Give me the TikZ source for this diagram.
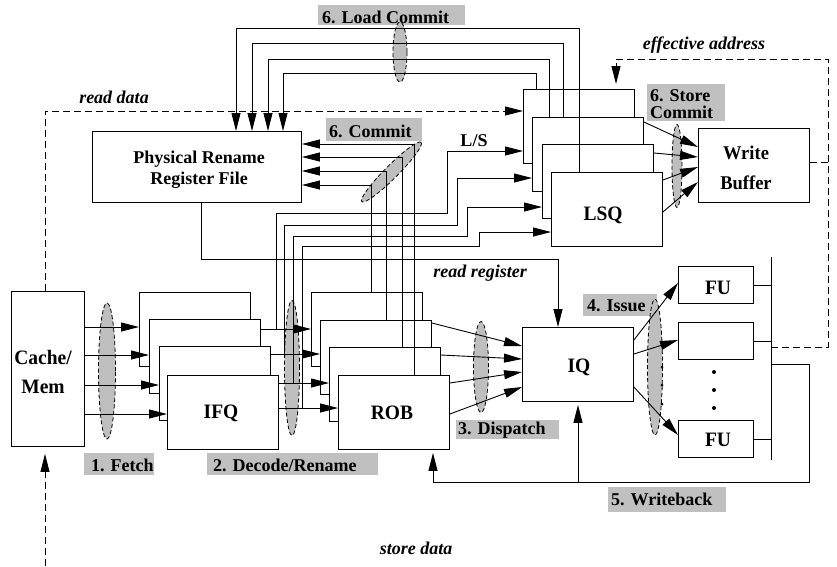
\documentclass[tikz,border=0pt]{standalone}
\usepackage{fontspec}
\setmainfont{Liberation Serif}
\usetikzlibrary{arrows.meta,shapes.geometric}
\definecolor{labgray}{RGB}{192,192,192}
\definecolor{ellgray}{RGB}{190,190,190}
\begin{document}
\begin{tikzpicture}[x=1pt,y=-1pt,
  txt/.style={font=\fontsize{18}{21}\selectfont\bfseries,inner sep=0pt},
  btxt/.style={font=\fontsize{19.5}{23}\selectfont\bfseries,inner sep=0pt,yscale=1.05},
  itxt/.style={font=\fontsize{18}{21}\selectfont\bfseries\itshape,inner sep=0pt},
  ln/.style={line width=0.9pt},
  arr/.style={ln,-{Triangle[length=18pt,width=9pt]}},
  dsh/.style={ln,dash pattern=on 7pt off 4pt},
  darr/.style={dsh,-{Triangle[length=18pt,width=9pt]}},
  qbox/.style={draw,fill=white,line width=0.9pt,anchor=north west,inner sep=0pt,minimum width=111pt,minimum height=74pt},
  fubox/.style={draw,fill=white,line width=0.9pt,anchor=north west,inner sep=0pt,minimum width=75pt,minimum height=37pt},
  stage/.style={fill=labgray,anchor=north west,inner sep=0pt},
  grp/.style={ellipse,draw,fill=ellgray,line width=0.8pt,dash pattern=on 4pt off 2.5pt,inner sep=0pt},
  dotn/.style={circle,fill=black,inner sep=0pt,minimum size=4pt},
  sdot/.style={circle,fill=black,inner sep=0pt,minimum size=3pt},
]
\useasboundingbox (0,0) rectangle (837,566);

% stage label backgrounds
\node[stage,minimum width=70pt,minimum height=22pt] (bgF) at (84,453) {};
\node[stage,minimum width=171pt,minimum height=22pt] (bgD) at (207,453) {};
\node[stage,minimum width=103pt,minimum height=19pt] (bgDi) at (456,420) {};
\node[stage,minimum width=74pt,minimum height=22pt] (bgI) at (583,294) {};
\node[stage,minimum width=118pt,minimum height=25pt] (bgW) at (608,487) {};
\node[stage,minimum width=147pt,minimum height=20pt] (bgL) at (318,5) {};
\node[stage,minimum width=96pt,minimum height=23pt] (bgC) at (326,118) {};
\node[stage,minimum width=78pt,minimum height=37pt] (bgS) at (647,84) {};

% group ellipses
\node[grp,minimum width=17pt,minimum height=136pt] (gF) at (107,371) {};
\node[grp,minimum width=15pt,minimum height=135pt] (gD) at (292,368) {};
\node[grp,minimum width=15pt,minimum height=91pt] (gDi) at (481,367) {};
\node[grp,minimum width=15pt,minimum height=136pt] (gI) at (655,367) {};
\node[grp,minimum width=14pt,minimum height=60pt] (gL) at (400,52) {};
\node[grp,minimum width=10pt,minimum height=83pt] (gS) at (677,166) {};
\node[grp,minimum width=84pt,minimum height=13pt,rotate=45] (gC) at (391.5,172) {};

% boxes
\node[qbox,minimum width=73pt,minimum height=155pt] (cache) at (11,291) {};
\node[qbox,minimum width=209pt,minimum height=71pt] (prrf) at (92,131) {};
\node[qbox] (lsqA) at (523,89) {};
\node[qbox] (lsqB) at (532,117) {};
\node[qbox] (lsqC) at (542,144) {};
\node[qbox] (lsqD) at (551,172) {};
\node[qbox] (wb) at (698,128) {};
\node[qbox] (ifqA) at (139,292) {};
\node[qbox] (ifqB) at (149,319) {};
\node[qbox] (ifqC) at (159,346) {};
\node[qbox] (ifqD) at (167,375) {};
\node[qbox] (robA) at (311,292) {};
\node[qbox] (robB) at (320,320) {};
\node[qbox] (robC) at (329,347) {};
\node[qbox] (robD) at (338,375) {};
\node[qbox] (iq) at (522,327) {};
\node[fubox] (fuA) at (678,266) {};
\node[fubox] (fuB) at (678,322) {};
\node[fubox] (fuC) at (678,420) {};

% fetch
\draw[arr] (cache.east |- 0,327) -- (ifqA.west |- 0,327);
\draw[arr] (cache.east |- 0,355) -- (ifqB.west |- 0,355);
\draw[arr] (cache.east |- 0,385) -- (ifqC.west |- 0,385);
\draw[arr] (cache.east |- 0,414) -- (ifqD.west |- 0,414);

% decode / rename
\draw[arr] (ifqB.east |- 0,329) -- (robA.west |- 0,329);
\draw[arr] (ifqC.east |- 0,354) -- (robB.west |- 0,354);
\draw[arr] (ifqD.east |- 0,383) -- (robC.west |- 0,383);
\draw[arr] (ifqD.east |- 0,408) -- (robD.west |- 0,408);

% to LSQ (L/S)
\draw[arr] (276,329) -- (276,213) -- (447,213) -- (447,151) -- (lsqA.west |- 0,151);
\draw[arr] (284,354) -- (284,225) -- (457,225) -- (457,178) -- (lsqB.west |- 0,178);
\draw[arr] (293,383) -- (293,236) -- (467,236) -- (467,207) -- (lsqC.west |- 0,207);
\draw[arr] (302,408) -- (302,246) -- (479,246) -- (479,232) -- (lsqD.west |- 0,232);

% commit
\draw[arr] (414,0 |- robD.north) -- (414,144) -- (prrf.east |- 0,144);
\draw[arr] (402,0 |- robC.north) -- (402,157) -- (prrf.east |- 0,157);
\draw[arr] (386,0 |- robB.north) -- (386,171) -- (prrf.east |- 0,171);
\draw[arr] (371,0 |- robA.north) -- (371,185) -- (prrf.east |- 0,185);

% load commit
\draw[arr] (579,0 |- lsqD.north) -- (579,28) -- (236,28) -- (236,0 |- prrf.north);
\draw[arr] (563,0 |- lsqB.north) -- (563,43) -- (252,43) -- (252,0 |- prrf.north);
\draw[arr] (549,0 |- lsqB.north) -- (549,59) -- (268,59) -- (268,0 |- prrf.north);
\draw[arr] (536,0 |- lsqA.north) -- (536,73) -- (283,73) -- (283,0 |- prrf.north);

% store commit
\draw[arr] (lsqB.east |- 0,122) -- (wb.west |- 0,147);
\draw[arr] (lsqC.east |- 0,153) -- (wb.west |- 0,157);
\draw[arr] (lsqD.east |- 0,180) -- (wb.west |- 0,167);
\draw[arr] (lsqD.east |- 0,212) -- (wb.west |- 0,182);

% read data / store data
\draw[darr] (45,0 |- cache.north) -- (45,111) -- (lsqA.west |- 0,111);
\draw[darr,shorten >=7pt] (45,566) -- (45,0 |- cache.south);

% read register
\draw[arr] (201,0 |- prrf.south) -- (201,259) -- (558,259) -- (558,0 |- iq.north);

% dispatch
\draw[arr] (robB.east |- 0,323) -- (iq.west |- 0,346);
\draw[arr] (robC.east |- 0,355) -- (iq.west |- 0,359);
\draw[arr] (robD.east |- 0,383) -- (iq.west |- 0,372);
\draw[arr] (robD.east |- 0,414) -- (iq.west |- 0,387);

% issue
\draw[arr] (iq.east |- 0,340) -- (fuA.west |- 0,283);
\draw[arr] (iq.east |- 0,354) -- (fuB.west |- 0,340);
\draw[arr] (iq.east |- 0,387) -- (fuC.west |- 0,435);
\node[sdot] (iA) at (662,367) {};
\node[sdot] (iB) at (662,385) {};
\node[sdot] (iC) at (662,404) {};

% result bus
\coordinate (busT) at (771,257);
\coordinate (busB) at (771,460);
\draw[ln] (busT) -- (busB);
\draw[ln] (fuA.east) -- (busT |- fuA.east);
\draw[ln] (fuB.east) -- (busT |- fuB.east);
\draw[ln] (fuC.east) -- (busT |- fuC.east);
\node[dotn] (dA) at (714,372) {};
\node[dotn] (dB) at (714,390) {};
\node[dotn] (dC) at (714,408) {};

% writeback
\draw[arr,shorten >=3pt] (busT |- 0,364) -- (809,364) -- (809,482) -- (433,482) -- (433,0 |- robD.south);
\draw[arr,shorten >=3pt] (578,482) -- (578,0 |- iq.south);

% effective address
\draw[darr,shorten >=5pt] (busT |- 0,347) -- (828,347) -- (828,59) -- (616,59) -- (616,0 |- lsqA.north);
\draw[dsh] (wb.east |- 0,162) -- (828,162);

% box texts
\node[btxt,align=center,font=\fontsize{19.5}{27}\selectfont\bfseries] (tCache) at (43,372) {Cache/\\Mem};
\node[txt,align=center] (tPrrf) at (199,170) {Physical Rename\\Register File};
\node[btxt,align=center,font=\fontsize{18.5}{29}\selectfont\bfseries] (tWb) at (746,168) {Write\\Buffer};
\node[btxt] (tLsq) at (603,215) {LSQ};
\node[btxt] (tIfq) at (221,413) {IFQ};
\node[btxt] (tRob) at (392,413) {ROB};
\node[btxt] (tIq) at (579,367) {IQ};
\node[btxt] (tFuA) at (718,288) {FU};
\node[btxt] (tFuC) at (718,440) {FU};

% stage texts
\node[txt,anchor=west] (sF) at (91,465) {1. Fetch};
\node[txt,anchor=west] (sD) at (213,465) {2. Decode/Rename};
\node[txt,anchor=west] (sDi) at (458,430) {3. Dispatch};
\node[txt,anchor=west] (sI) at (587,306) {4. Issue};
\node[txt,anchor=west] (sW) at (611,499) {5. Writeback};
\node[txt,anchor=west] (sL) at (322,17) {6. Load Commit};
\node[txt,anchor=west] (sC) at (329,131) {6. Commit};
\node[txt,anchor=west] (sS1) at (650,96) {6. Store};
\node[txt,anchor=west] (sS2) at (650,112) {Commit};

% other labels
\node[itxt] (lRd) at (114,97) {read data};
\node[itxt] (lEa) at (704,45) {effective address};
\node[itxt] (lRr) at (480,273) {read register};
\node[itxt] (lSd) at (416,548) {store data};
\node[txt] (lLs) at (474,141) {L/S};
\end{tikzpicture}
\end{document}
